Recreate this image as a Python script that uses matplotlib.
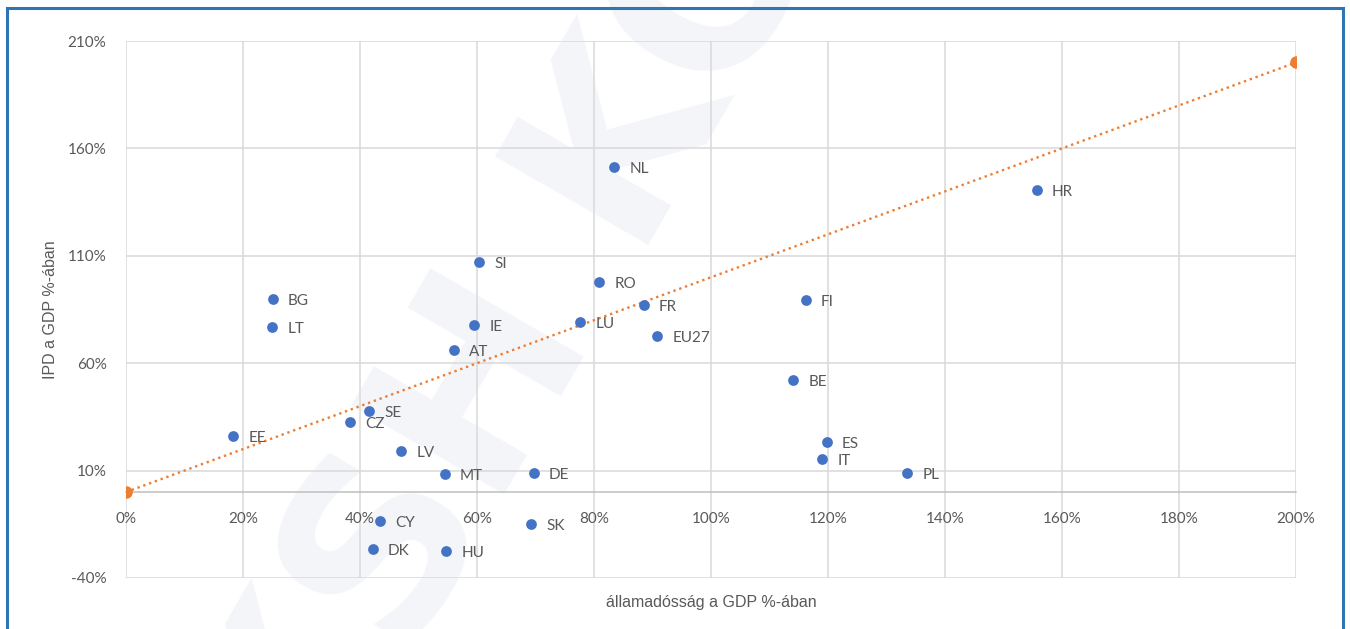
import matplotlib
matplotlib.use("Agg")
import matplotlib.pyplot as plt
from matplotlib.ticker import FuncFormatter
from matplotlib.patches import Rectangle

# államadósság (x) és IPD (y), a GDP %-ában
countries = ["NL", "HR", "SI", "RO", "BG", "FI", "FR", "LT", "IE", "LU", "EU27",
             "AT", "BE", "SE", "CZ", "EE", "ES", "LV", "IT", "MT", "DE", "PL",
             "CY", "SK", "DK", "HU"]
debt = [83.4, 155.7, 60.3, 80.9, 25.1, 116.2, 88.5, 25.0, 59.5, 77.6, 90.8,
        56.1, 114.0, 41.5, 38.3, 18.3, 119.8, 47.0, 119.0, 54.5, 69.7, 133.5,
        43.4, 69.2, 42.2, 54.7]
ipd = [151.3, 140.6, 107.1, 97.8, 89.9, 89.4, 87.1, 76.9, 77.8, 79.2, 72.7,
       66.1, 52.2, 37.7, 32.6, 26.1, 23.3, 19.1, 15.4, 8.4, 8.9, 8.9,
       -13.5, -14.9, -26.5, -27.4]
diag_x = [0, 200]
diag_y = [0, 200]
x_ticks = [0, 20, 40, 60, 80, 100, 120, 140, 160, 180, 200]
y_ticks = [-40, 10, 60, 110, 160, 210]

BLUE = "#4472C4"
ORANGE = "#ED7D31"
GRAY = "#595959"
GRID = "#d9d9d9"

fig = plt.figure(figsize=(13.5, 6.29), dpi=100)
ax = fig.add_axes([0.0933, 0.0811, 0.8667, 0.8537])

# frame round the figure
fig.patches.append(Rectangle((0.005, -0.05), 0.99, 1.037, transform=fig.transFigure,
                             fill=False, edgecolor="#2e75b6", linewidth=2.2))

# faint watermark, behind everything in the axes
ax.text(0.38, 0.45, "KSH KÖ", rotation=60, fontsize=175, fontweight="bold",
        color="#f4f5f9", ha="center", va="center", zorder=-5,
        family="DejaVu Sans", transform=fig.transFigure, clip_on=False)

ax.set_xlim(0, 200)
ax.set_ylim(-40, 210)
ax.set_xticks(x_ticks)
ax.set_yticks(y_ticks)
pct = FuncFormatter(lambda v, p: "{:.0f}%".format(v))
ax.xaxis.set_major_formatter(pct)
ax.yaxis.set_major_formatter(pct)
ax.grid(True, color=GRID, linewidth=1.1, zorder=1)
ax.set_axisbelow(True)
ax.patch.set_alpha(0)

for s in ["top", "right", "left"]:
    ax.spines[s].set_visible(False)
ax.spines["bottom"].set_position(("data", 0))
ax.spines["bottom"].set_color("#bfbfbf")
ax.spines["bottom"].set_linewidth(1.1)
ax.tick_params(axis="both", length=0, colors=GRAY, labelsize=11)
ax.tick_params(axis="x", pad=14)
ax.tick_params(axis="y", pad=14)
for lab in ax.get_xticklabels() + ax.get_yticklabels():
    lab.set_family("Lato")

ax.plot(diag_x, diag_y, linestyle=(0, (1, 1.6)), color=ORANGE, linewidth=1.7,
        marker="o", markersize=8, zorder=3)
ax.scatter(debt, ipd, s=60, color=BLUE, zorder=4, linewidths=0)

for name, xv, yv in zip(countries, debt, ipd):
    ax.annotate(name, (xv, yv), xytext=(11, -1.5), textcoords="offset points",
                ha="left", va="center", fontsize=11, color=GRAY, family="Lato",
                zorder=5)

ax.set_xlabel("államadósság a GDP %-ában", fontsize=11.5, color=GRAY,
              family="Liberation Sans")
ax.xaxis.set_label_coords(0.5, -0.032)
ax.set_ylabel("IPD a GDP %-ában", fontsize=11.5, color=GRAY,
              family="Liberation Sans")
ax.yaxis.set_label_coords(-0.058, 0.5)

fig.savefig("out.png", dpi=100)
